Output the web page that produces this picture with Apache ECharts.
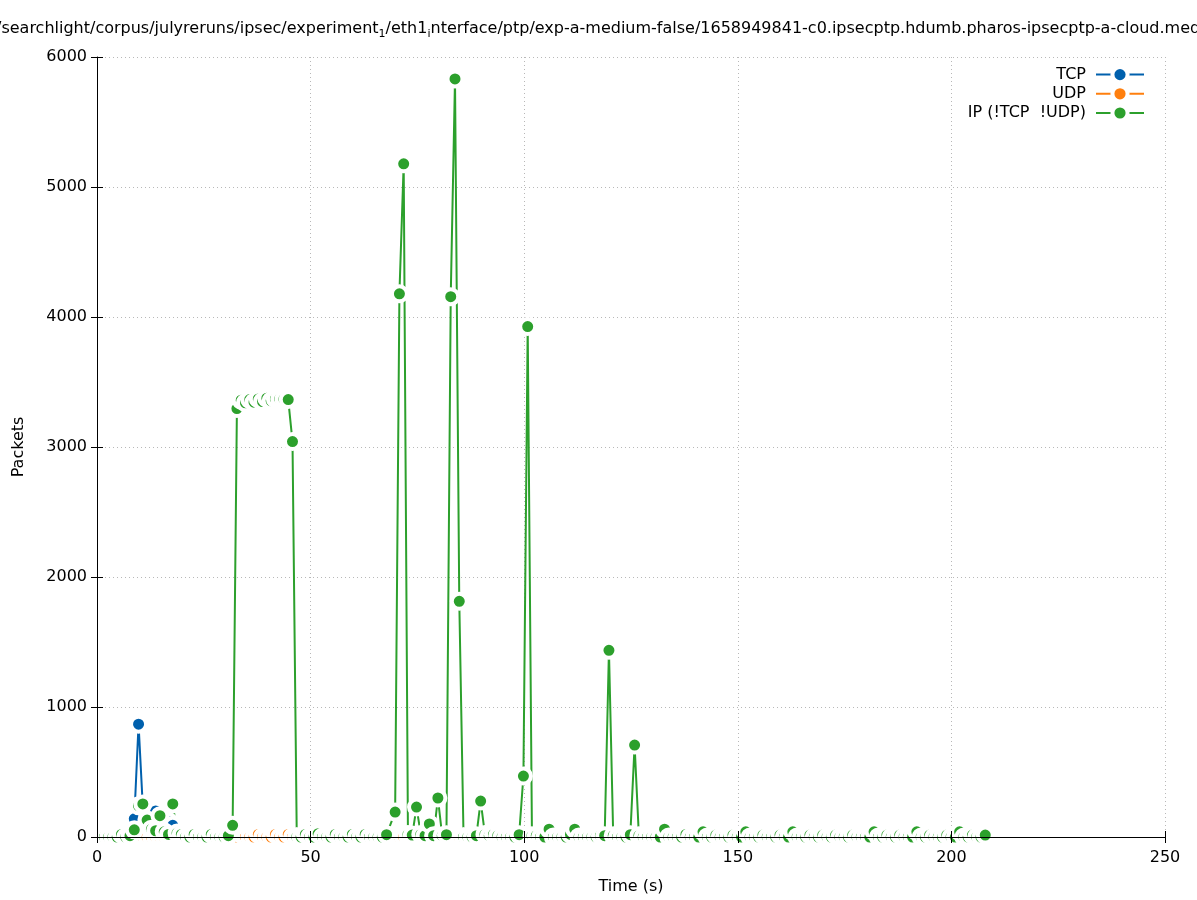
<!DOCTYPE html>
<html><head><meta charset="utf-8">
<script src="https://cdn.jsdelivr.net/npm/echarts@6/dist/echarts.min.js"></script>
<style>html,body{margin:0;padding:0;background:#fff}#chart{width:1197px;height:900px}</style>
</head><body><div id="chart"></div>
<script>
// sampling grid: about one sample per second
const sampleStart = 1.72;
const sampleStep = 1.001;

const seriesNames = ['TCP', 'UDP', 'IP (!TCP  !UDP)'];

const ipValues = [
  0,0,0,0,20,0,10,55,240,254,
  130,60,48,164,40,20,254,30,20,0,
  0,20,0,0,0,20,0,0,0,10,
  90,3296,3360,3340,3365,3345,3370,3350,3375,3355,
  3370,3370,3368,3365,3042,0,0,20,0,0,
  25,0,0,0,20,0,0,0,20,0,
  0,20,0,0,0,0,18,null,192,4178,
  5178,20,15,230,20,10,100,10,300,10,
  18,4156,5831,1813,0,0,0,10,276,20,
  10,20,10,0,0,0,0,18,469,3926,
  10,10,0,0,60,0,0,0,0,20,
  60,0,0,0,0,0,10,10,1436,10,
  0,0,0,18,707,10,0,0,0,0,
  0,60,0,0,0,0,20,0,0,0,
  40,0,0,15,0,0,0,15,0,0,
  40,0,0,0,15,0,0,0,15,0,
  0,40,0,0,0,15,0,0,15,0,
  0,15,0,0,0,15,0,0,0,0,
  40,0,0,15,0,0,15,0,0,0,
  40,0,0,15,0,0,0,15,0,0,
  40,0,0,15,0,0,15
];

const tcpValues = [
  0,0,0,0,0,0,0,140,868,230,
  130,160,200,90,60,120,90,0,0,0,
  0,0,0,0,0,0,0,0,0,0,
  0,0,0,0,0,0,0,0,0,0,
  0,0,0,0,0,0,0,0,0,0,
  0,0,0,0,0,0,0,0,0,0,
  0,0,0,0,0,0,0,0,0,0,
  0,0,0,0,0,0,0,0,0,0,
  0,0,0,0,0,0,0,0,0,0,
  0,0,0,0,0,0,0,0,0,0,
  0,0,0,0,0,0,0,0,0,0,
  0,0,0,0,0,0,0,0,0,0,
  0,0,0,0,0,0,0,0,0,0,
  0,0,0,0,0,0,0,0,0,0,
  0,0,0,0,0,0,0,0,0,0,
  0,0,0,0,0,0,0,0,0,0,
  0,0,0,0,0,0,0,0,0,0,
  0,0,0,0,0,0,0,0,0,0,
  0,0,0,0,0,0,0,0,0,0,
  0,0,0,0,0,0,0,0,0,0,
  0,0,0,0,0,0,0
];

const udpValues = [
  0,0,0,0,0,0,0,0,0,0,
  0,0,0,0,0,0,0,0,0,0,
  0,0,0,0,0,0,0,0,0,0,
  0,0,20,0,0,0,20,0,0,0,
  20,0,0,20,0,0,0,0,0,0,
  0,0,0,0,0,0,0,0,0,0,
  0,0,0,0,0,0,0,0,0,0,
  0,0,0,0,0,0,0,0,0,0,
  0,0,0,0,0,0,0,0,0,0,
  0,0,0,0,0,0,0,0,0,0,
  0,0,0,0,0,0,0,0,0,0,
  0,0,0,0,0,0,0,0,0,0,
  0,0,0,0,0,0,0,0,0,0,
  0,0,0,0,0,0,0,0,0,0,
  0,0,0,0,0,0,0,0,0,0,
  0,0,0,0,0,0,0,0,0,0,
  0,0,0,0,0,0,0,0,0,0,
  0,0,0,0,0,0,0,0,0,0,
  0,0,0,0,0,0,0,0,0,0,
  0,0,0,0,0,0,0,0,0,0,
  0,0,0,0,0,0,0
];

const xMin = 0, xMax = 250, xStep = 50;
const yMin = 0, yMax = 6000, yStep = 1000;

const titleParts = [
  ['n', '/searchlight/corpus/julyreruns/ipsec/experiment'],
  ['s', '1'],
  ['n', '/eth1'],
  ['s', 'i'],
  ['n', 'nterface/ptp/exp-a-medium-false/1658949841-c0.ipsecptp.hdumb.pharos-ipsecptp-a-cloud.medium']
];

const FONT = 'DejaVu Sans';
const FS = 16;
const colors = ['#0060ad', '#ff7f0e', '#2ca02c'];

function pairs(values) {
  return values.map((v, i) => [sampleStart + i * sampleStep, v == null ? '-' : v]);
}

function lineSeries(name, values, color) {
  return {
    name: name,
    type: 'line',
    xAxisIndex: 0,
    yAxisIndex: 0,
    data: pairs(values),
    connectNulls: true,
    symbol: 'circle',
    symbolSize: 15,
    showSymbol: true,
    showAllSymbol: true,
    clip: false,
    lineStyle: { color: color, width: 2 },
    itemStyle: { color: color, borderColor: '#ffffff', borderWidth: 4 },
    emphasis: { disabled: true },
    animation: false,
    z: 2
  };
}

const chart = echarts.init(document.getElementById('chart'), null, { renderer: 'canvas' });

const xBase = { type: 'value', min: xMin, max: xMax, interval: xStep, gridIndex: 0 };
const yBase = { type: 'value', min: yMin, max: yMax, interval: yStep, gridIndex: 0 };
const tickStyle = { color: '#000', width: 1 };
const plainNum = v => String(v);

chart.setOption({
  backgroundColor: '#ffffff',
  animation: false,
  graphic: [{
    type: 'text',
    x: -4,
    y: 18,
    silent: true,
    style: {
      text: titleParts.map(p => '{' + p[0] + '|' + p[1] + '}').join(''),
      fill: '#000',
      rich: {
        n: { fontFamily: FONT, fontSize: 16, fill: '#000', lineHeight: 22 },
        s: { fontFamily: FONT, fontSize: 11, fill: '#000', lineHeight: 12, verticalAlign: 'bottom' }
      }
    }
  }],
  legend: {
    data: seriesNames,
    orient: 'vertical',
    right: 52,
    top: 65,
    padding: 0,
    align: 'right',
    itemWidth: 48,
    itemHeight: 19,
    itemGap: 0,
    selectedMode: false,
    itemStyle: { borderColor: '#ffffff', borderWidth: 4 },
    textStyle: { fontFamily: FONT, fontSize: FS, color: '#000', padding: [0, 5, 0, 0] }
  },
  grid: { left: 97, right: 32, top: 57, bottom: 62, containLabel: false },
  xAxis: [
    Object.assign({}, xBase, {
      position: 'bottom', z: 10,
      name: 'Time (s)', nameLocation: 'middle', nameGap: 42,
      nameTextStyle: { fontFamily: FONT, fontSize: FS, color: '#000' },
      axisLine: { show: true, onZero: false, lineStyle: { color: '#000', width: 1 } },
      axisTick: { show: true, inside: true, length: 6, lineStyle: tickStyle },
      axisLabel: { show: true, margin: 13, fontFamily: FONT, fontSize: FS, color: '#000', formatter: plainNum },
      splitLine: { show: false }
    }),
    Object.assign({}, xBase, {
      position: 'top', z: 10,
      axisLine: { show: false },
      axisTick: { show: true, inside: true, length: 6, lineStyle: tickStyle },
      axisLabel: { show: false },
      splitLine: { show: false }
    }),
    Object.assign({}, xBase, {
      position: 'bottom', z: 0,
      axisLine: { show: false }, axisTick: { show: false }, axisLabel: { show: false },
      splitLine: { show: true, lineStyle: { color: '#b8b8b8', width: 1, type: [1, 3] } }
    })
  ],
  yAxis: [
    Object.assign({}, yBase, {
      position: 'left', z: 10,
      name: 'Packets', nameLocation: 'middle', nameGap: 70, nameRotate: 90,
      nameTextStyle: { fontFamily: FONT, fontSize: FS, color: '#000' },
      axisLine: { show: true, onZero: false, lineStyle: { color: '#000', width: 1 } },
      axisTick: { show: true, inside: true, length: 6, lineStyle: tickStyle },
      axisLabel: { show: true, margin: 10, fontFamily: FONT, fontSize: FS, color: '#000', formatter: plainNum },
      splitLine: { show: false }
    }),
    Object.assign({}, yBase, {
      position: 'right', z: 10,
      axisLine: { show: false },
      axisTick: { show: true, inside: true, length: 6, lineStyle: tickStyle },
      axisLabel: { show: false },
      splitLine: { show: false }
    }),
    Object.assign({}, yBase, {
      position: 'left', z: 0,
      axisLine: { show: false }, axisTick: { show: false }, axisLabel: { show: false },
      splitLine: { show: true, lineStyle: { color: '#b8b8b8', width: 1, type: [1, 3] } }
    })
  ],
  series: [
    lineSeries(seriesNames[0], tcpValues, colors[0]),
    lineSeries(seriesNames[1], udpValues, colors[1]),
    lineSeries(seriesNames[2], ipValues, colors[2])
  ]
});
</script>
</body></html>
